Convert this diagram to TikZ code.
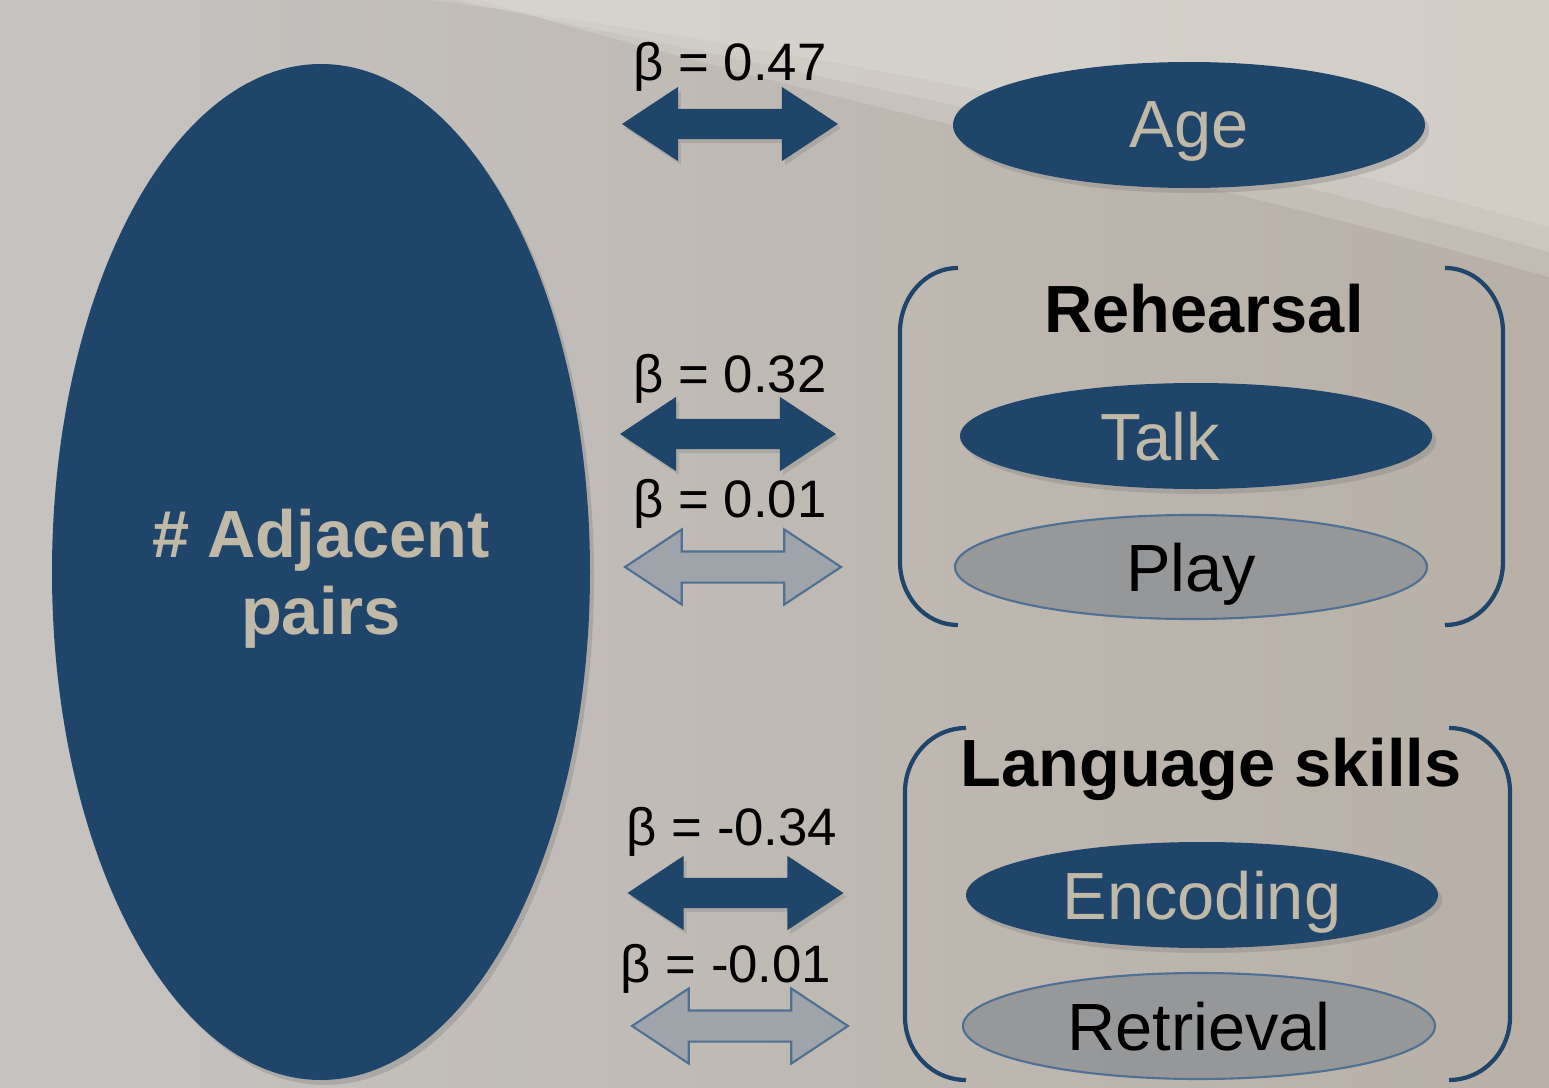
\documentclass[tikz,border=0pt]{standalone}
\usepackage{fontspec}
\setmainfont{Liberation Sans}
\usepackage{tikz}
\usepackage{xcolor}
\usetikzlibrary{positioning}
\usetikzlibrary{shapes}
\usetikzlibrary{shapes.arrows}
\usetikzlibrary{shadows}
\definecolor{pairblue}{RGB}{31,69,106}
\definecolor{pairsand}{RGB}{192,185,167}
\definecolor{fadegray}{RGB}{138,142,147}
\definecolor{fadeedge}{RGB}{78,112,148}
\definecolor{fadearrow}{RGB}{128,143,163}
\definecolor{bgleft}{RGB}{198,195,193}
\definecolor{bgright}{RGB}{184,176,166}
\definecolor{bglight}{RGB}{236,234,229}
\tikzset{myEllipse/.style={ellipse, fill=pairblue, text=pairsand, inner sep=0pt, text depth=0pt, font=\fontsize{19}{22}\selectfont, drop shadow={opacity=0.35, shadow xshift=0.04cm, shadow yshift=-0.05cm}}}
\tikzset{myEllipseFaded/.style={ellipse, fill=fadegray, fill opacity=0.75, text opacity=1, draw=fadeedge, line width=0.6pt, text=black, inner sep=0pt, text depth=0pt, font=\fontsize{19}{22}\selectfont}}
\tikzset{myArrow/.style={double arrow, double arrow head extend=0.22cm, double arrow tip angle=67, inner sep=0pt, inner ysep=0.145cm, minimum height=2.16cm, fill=pairblue, drop shadow={opacity=0.3, shadow xshift=0.03cm, shadow yshift=-0.04cm}}}
\tikzset{myArrowFaded/.style={double arrow, double arrow head extend=0.22cm, double arrow tip angle=67, inner sep=0pt, inner ysep=0.145cm, minimum height=2.16cm, fill=fadearrow, fill opacity=0.5, draw=fadeedge, line width=0.6pt}}
\tikzset{myBeta/.style={font=\fontsize{15}{18}\selectfont}}
\tikzset{myTitle/.style={font=\bfseries\fontsize{19}{22}\selectfont}}
\tikzset{myBracket/.style={draw=pairblue, line width=1.2pt}}

\begin{document}
\begin{tikzpicture}

\useasboundingbox (0,0) rectangle (15.49,10.87);
\fill[left color=bgleft, right color=bgright] (0,0) rectangle (15.49,10.87);
\foreach \s in {0, 0.25, 0.5}
  \fill[bglight, opacity=0.22] (4.3+\s,10.87) .. controls (8,10.4-\s) and (12,9.6-\s) .. (15.49,8.6-\s) -- (15.49,10.87) -- cycle;

\node[myEllipse, minimum width=5.38cm, minimum height=10.16cm, align=center, font=\bfseries\fontsize{19}{22}\selectfont] (pairs) at (3.21, 5.15) {\# Adjacent\\pairs};

\node[myEllipse, minimum width=4.72cm, minimum height=1.26cm] (age) at (11.89, 9.62) {Age};
\node[myEllipse, minimum width=4.72cm, minimum height=1.06cm] (talk) at (11.96, 6.51) {\hspace*{-0.72cm}Talk};
\node[myEllipseFaded, minimum width=4.72cm, minimum height=1.04cm] (play) at (11.91, 5.20) {Play};
\node[myEllipse, minimum width=4.72cm, minimum height=1.06cm] (encoding) at (12.02, 1.92) {Encoding};
\node[myEllipseFaded, minimum width=4.72cm, minimum height=1.06cm] (retrieval) at (11.99, 0.61) {Retrieval};

\node[myTitle] (rehearsal) at (12.04, 7.78) {Rehearsal};
\node[myTitle] (language) at (12.11, 3.18) {Language skills};

\draw[myBracket] (9.58, 8.19) to[out=180, in=90] (9.00, 7.55) -- (9.00, 5.25) to[out=-90, in=180] (9.58, 4.62);
\draw[myBracket] (14.45, 8.19) to[out=0, in=90] (15.03, 7.55) -- (15.03, 5.25) to[out=-90, in=0] (14.45, 4.62);
\draw[myBracket] (9.66, 3.59) to[out=180, in=90] (9.05, 2.95) -- (9.05, 0.70) to[out=-90, in=180] (9.66, 0.07);
\draw[myBracket] (14.49, 3.59) to[out=0, in=90] (15.10, 2.95) -- (15.10, 0.70) to[out=-90, in=0] (14.49, 0.07);

\node[myArrow] (arrAge) at (7.30, 9.63) {};
\node[myArrow] (arrTalk) at (7.28, 6.53) {};
\node[myArrowFaded] (arrPlay) at (7.33, 5.20) {};
\node[myArrow] (arrEnc) at (7.355, 1.94) {};
\node[myArrowFaded] (arrRet) at (7.40, 0.61) {};

\node[myBeta] (betaAge) at (7.30, 10.20) {β = 0.47};
\node[myBeta] (betaTalk) at (7.30, 7.08) {β = 0.32};
\node[myBeta] (betaPlay) at (7.30, 5.83) {β = 0.01};
\node[myBeta] (betaEnc) at (7.32, 2.55) {β = -0.34};
\node[myBeta] (betaRet) at (7.26, 1.18) {β = -0.01};

\end{tikzpicture}
\end{document}
